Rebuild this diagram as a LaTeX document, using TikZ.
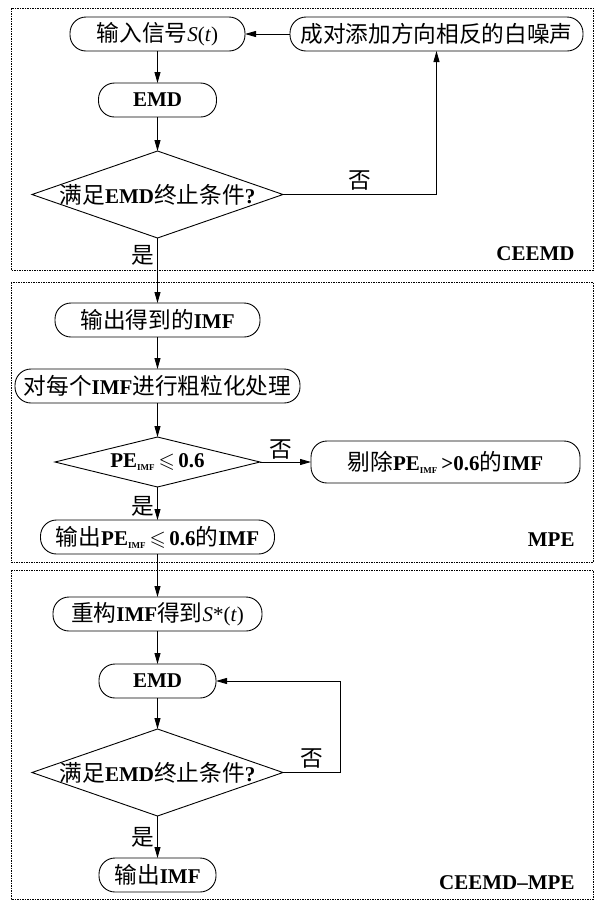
\documentclass[tikz,border=0pt]{standalone}
\usepackage{amssymb}
\usepackage{fontspec}
\setmainfont{Liberation Serif}
\newfontfamily\cjk{Noto Sans CJK SC}[Scale=1.08]
\usetikzlibrary{arrows.meta,positioning,shapes.geometric}
\newcommand\zh[1]{{\cjk\mdseries #1}}
\newcommand\PEimf{PE\textsubscript{\fontsize{9}{9}\selectfont IMF}}
\newcommand\lesl{\ensuremath{\leqslant}}

\begin{document}
\begin{tikzpicture}[x=1pt,y=-1pt,font=\fontsize{21}{24}\selectfont\bfseries,
  line width=.9pt,
  b/.style={draw,rounded corners=16pt,minimum height=34pt,inner sep=0pt,
    outer sep=0pt,align=center},
  dec/.style={draw,diamond,inner sep=0pt,outer sep=0pt},
  flow/.style={-{Triangle[length=11pt,width=6pt]}},
  frame/.style={line width=.6pt,dash pattern=on 1.5pt off 1pt},
  seclbl/.style={anchor=east,inner sep=0pt}]
\useasboundingbox (0,0) rectangle (595,903);

% ============ CEEMD ============
\draw[frame] (11,8) rectangle (593,270);
\node[b,minimum width=175pt] (in) at (157.5,34)
  {\zh{输入信号}\mdseries\textit{S}(\textit{t})};
\node[b,minimum width=293pt,right=45pt of in] (add)
  {\zh{成对添加方向相反的白噪声}};
\node[b,minimum width=118pt,below=32pt of in] (emd1) {EMD};
\node[dec,minimum width=251pt,minimum height=87pt,shape aspect=2.9,
  below=34pt of emd1] (c1) {\makebox[0pt]{\zh{满足}EMD\zh{终止条件}?}};
\node[seclbl] (l1) at (575,254) {CEEMD};
\foreach \a/\b in {add/in,in/emd1,emd1/c1}\draw[flow] (\a)--(\b);
\draw[flow] (c1.east) -| node[pos=.25,above] (n1) {\zh{否}} (add.south);

% ============ MPE ============
\draw[frame] (11,282) rectangle (593,562);
\node[b,minimum width=205pt,below=65pt of c1] (out1) {\zh{输出得到的}IMF};
\node[b,minimum width=285pt,below=32pt of out1] (crs)
  {\zh{对每个}IMF\zh{进行粗粒化处理}};
\node[dec,minimum width=205pt,minimum height=50pt,shape aspect=4.1,
  below=34pt of crs] (c2) {\PEimf\,\lesl\,0.6};
\node[b,minimum width=269pt,minimum height=42pt,right=51pt of c2] (rej)
  {\zh{剔除}\PEimf\,>0.6\zh{的}IMF};
\node[b,minimum width=234pt,below=33pt of c2] (outpe)
  {\zh{输出}\PEimf\,\lesl\,0.6\zh{的}IMF};
\node[seclbl] (l2) at (575,540) {MPE};
\draw[flow] (c1) -- node[pos=.26,left] (y1) {\zh{是}} (out1);
\foreach \a/\b in {out1/crs,crs/c2}\draw[flow] (\a)--(\b);
\draw[flow] (c2) -- node[pos=.4,above,inner sep=2pt] (n2) {\zh{否}} (rej);
\draw[flow] (c2) -- node[pos=.58,left] (y2) {\zh{是}} (outpe);

% ============ CEEMD-MPE ============
\draw[frame] (11,570) rectangle (593,899);
\node[b,minimum width=209pt,below=43pt of outpe] (rec)
  {\zh{重构}IMF\zh{得到}\mdseries\textit{S}*(\textit{t})};
\node[b,minimum width=117pt,below=33pt of rec] (emd2) {EMD};
\node[dec,minimum width=251pt,minimum height=87pt,shape aspect=2.9,
  below=31pt of emd2] (c3) {\makebox[0pt]{\zh{满足}EMD\zh{终止条件}?}};
\node[b,minimum width=117pt,below=42pt of c3] (outimf) {\zh{输出}IMF};
\node[seclbl] (l3) at (575,883) {CEEMD--MPE};
\foreach \a/\b in {outpe/rec,rec/emd2,emd2/c3}\draw[flow] (\a)--(\b);
\draw[flow] (c3.east) -- node[above] (n3) {\zh{否}} ++(57,0) |- (emd2.east);
\draw[flow] (c3) -- node[pos=.5,left] (y3) {\zh{是}} (outimf);

\end{tikzpicture}
\end{document}
